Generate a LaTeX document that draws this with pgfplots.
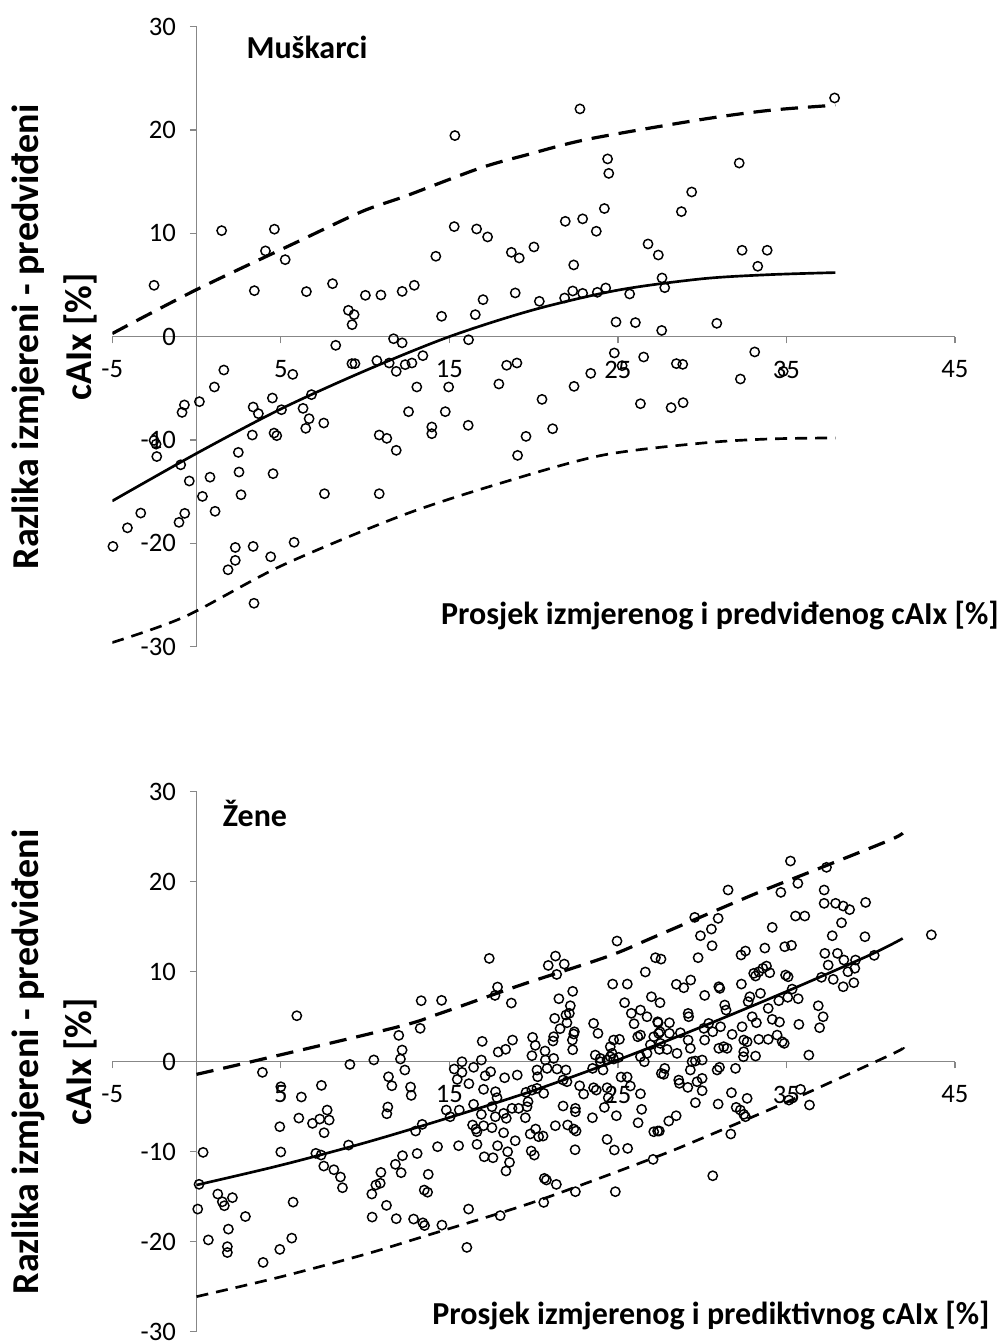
\documentclass[border=0pt]{standalone}
\usepackage{pgfplots}
\pgfplotsset{compat=1.18}
\usepackage{fontspec}
\setmainfont{Carlito}

\newcommand{\lblfont}{\fontsize{24}{29}\selectfont\bfseries}
\newcommand{\ylblfont}{\fontsize{28.5}{34}\selectfont\bfseries}

\pgfplotsset{
  resid/.style={
    scale only axis, width=632pt,
    xmin=-5, xmax=45, ymin=-30, ymax=30,
    axis lines=middle,
    axis line style={draw=black!47, line width=1pt, -},
    every inner x axis line/.append style={-},
    every inner y axis line/.append style={-},
    xtick={-5,5,15,25,35,45}, xticklabels={-5,5,15,25,35,45},
    ytick={-30,-20,-10,0,10,20,30}, yticklabels={-30,-20,-10,0,10,20,30},
    hide obscured x ticks=false, hide obscured y ticks=false,
    tick align=outside, major tick length=5pt,
    tick style={draw=black!47, line width=1pt},
    tick label style={font=\fontsize{20}{24}\selectfont},
    xticklabel style={yshift=-9.5pt},
    yticklabel style={xshift=-7pt},
  },
  pts/.style={only marks, mark=o, mark size=3.5pt, mark options={line width=1.1pt, draw=black}},
  fitline/.style={black, line width=2pt, smooth, no marks},
  upper/.style={black, line width=2.4pt, dash pattern=on 13pt off 7.5pt, smooth, no marks},
  lower/.style={black, line width=2pt, dash pattern=on 9pt off 6pt, smooth, no marks},
}

\begin{document}
\begin{tikzpicture}
\path[use as bounding box] (0,0) rectangle (754.5pt,1006.5pt);

% Muskarci
\begin{axis}[resid, height=465pt, at={(84.2pt,521.5pt)}, anchor=south west]
\addplot[pts] coordinates {
(-2.52,4.97) (1.49,10.26) (4.62,10.4) (4.09,8.3) (5.26,7.45) (3.43,4.45) (6.52,4.36) (8.07,5.13)
(9.01,2.55) (9.35,2.13) (9.23,1.16) (10.02,4.0) (10.94,4.03) (12.2,4.38) (11.69,-0.2) (12.2,-0.6)
(22.75,22.04) (15.33,19.46) (37.86,23.1) (24.39,17.2) (24.46,15.8) (32.2,16.8) (29.38,14.0) (28.77,12.1)
(24.2,12.4) (21.88,11.16) (22.91,11.4) (23.72,10.2) (15.29,10.65) (16.62,10.42) (17.27,9.65) (14.2,7.78)
(18.68,8.16) (19.15,7.61) (20.02,8.68) (22.38,6.94) (26.79,8.97) (27.4,7.9) (27.62,5.68) (27.78,4.74)
(32.37,8.36) (33.86,8.36) (33.3,6.81) (12.92,4.97) (14.54,1.97) (16.54,2.13) (17.0,3.58) (18.91,4.23)
(20.34,3.42) (21.84,3.74) (22.32,4.42) (22.91,4.19) (23.78,4.29) (24.28,4.71) (25.7,4.13) (24.89,1.42)
(26.04,1.36) (27.6,0.6) (30.87,1.29) (16.14,-0.3) (8.26,-0.84) (9.22,-2.61) (9.4,-2.61) (10.7,-2.32)
(11.43,-2.55) (11.85,-3.36) (1.62,-3.23) (1.06,-4.87) (0.17,-6.29) (-0.72,-6.61) (-0.86,-7.33) (5.71,-3.65)
(4.5,-5.94) (3.36,-6.81) (3.67,-7.45) (5.04,-7.07) (6.82,-5.61) (6.32,-6.94) (6.68,-7.94) (6.48,-8.87)
(7.55,-8.36) (3.31,-9.52) (4.6,-9.33) (4.76,-9.58) (2.48,-11.2) (2.52,-13.1) (4.54,-13.26) (0.8,-13.6)
(-0.43,-13.97) (-0.94,-12.4) (2.64,-15.3) (0.35,-15.46) (1.1,-16.9) (-0.7,-17.1) (-1.04,-17.97) (-3.31,-17.07)
(-4.1,-18.5) (-4.96,-20.3) (-2.52,-10.04) (-2.4,-10.4) (-2.36,-11.6) (7.59,-15.2) (10.84,-15.2) (10.84,-9.52)
(11.29,-9.84) (11.85,-11.0) (12.58,-7.26) (2.3,-20.4) (2.3,-21.65) (1.87,-22.56) (3.36,-20.3) (4.4,-21.3)
(5.79,-19.9) (3.41,-25.8) (13.43,-1.84) (12.38,-2.71) (12.78,-2.55) (13.07,-4.87) (14.96,-4.87) (14.76,-7.26)
(13.96,-8.74) (13.96,-9.39) (16.12,-8.58) (18.4,-2.77) (19.01,-2.55) (17.94,-4.58) (20.5,-6.07) (22.4,-4.81)
(23.39,-3.55) (21.13,-8.91) (19.55,-9.65) (19.05,-11.49) (24.79,-1.58) (25.25,-2.81) (26.53,-1.97) (26.34,-6.49)
(28.47,-2.61) (28.85,-2.68) (28.16,-6.87) (28.87,-6.39) (33.12,-1.48) (32.27,-4.1) (34.81,-3.36)
};
\addplot[fitline] coordinates {(-5,-15.9) (0,-11.3) (5,-7.0) (10,-3.3) (15,0.0) (20,2.6) (25,4.5) (30,5.6) (34,6.0) (37.9,6.2)};
\addplot[upper] coordinates {(-5,0.3) (0,4.55) (5.85,9.07) (9.8,12.1) (12.4,13.6) (16.8,16.3) (19.6,17.6) (23.2,19.1) (29.9,21.0) (34,21.9) (37.9,22.4)};
\addplot[lower] coordinates {(-5,-29.6) (-0.7,-27.1) (5,-22.2) (12.2,-17.3) (18,-14.2) (24,-11.5) (30,-10.3) (34,-9.9) (37.9,-9.8)};
\end{axis}

% Zene
\begin{axis}[resid, height=405pt, at={(84.2pt,7.7pt)}, anchor=south west]
\addplot[pts] coordinates {
(5.95,5.11) (13.33,6.78) (13.27,3.71) (12.0,2.93) (12.2,1.3) (12.1,0.3) (10.52,0.2) (9.1,-0.3)
(3.91,-1.18) (12.36,-0.92) (11.39,-1.67) (11.59,-2.67) (12.7,-2.81) (12.74,-3.74) (5.0,-2.78) (7.41,-2.63)
(6.22,-3.92) (7.75,-5.37) (6.07,-6.26) (6.88,-6.85) (7.31,-6.37) (7.87,-6.48) (7.57,-7.89) (4.94,-7.22)
(11.35,-5.03) (11.29,-5.78) (0.39,-10.07) (5.0,-10.03) (7.08,-10.18) (7.39,-10.37) (9.02,-9.26) (7.55,-11.59)
(8.15,-12.0) (8.54,-12.81) (8.66,-14.0) (0.15,-13.62) (0.07,-16.37) (1.26,-14.7) (1.53,-15.56) (1.65,-16.0)
(2.13,-15.1) (2.9,-17.2) (1.89,-18.6) (0.7,-19.8) (1.83,-20.55) (1.83,-21.2) (3.95,-22.3) (4.94,-20.85)
(5.65,-19.6) (5.73,-15.6) (10.4,-14.7) (10.64,-13.7) (10.9,-13.5) (10.94,-12.3) (11.8,-11.4) (12.22,-10.44)
(12.14,-12.33) (13.09,-10.2) (13.0,-7.7) (13.39,-6.96) (11.27,-15.96) (10.42,-17.26) (11.85,-17.44) (12.88,-17.48)
(13.43,-17.9) (13.53,-18.2) (13.75,-12.51) (13.51,-14.26) (13.71,-14.5)
(24.95,13.41) (17.37,11.48) (21.3,11.74) (20.87,10.7) (21.82,10.85) (21.37,9.7) (17.86,8.3) (17.71,7.37)
(14.54,6.82) (18.68,6.52) (16.95,2.26) (18.75,2.41) (17.9,1.08) (18.34,1.38) (15.75,0.0) (16.9,0.19)
(19.94,2.71) (20.1,1.82) (19.9,0.67) (20.68,1.19) (21.19,2.78) (21.15,2.3) (21.25,4.82) (21.5,7.0)
(22.32,7.82) (22.18,6.22) (22.12,5.38) (21.92,5.19) (21.98,4.33) (21.57,3.67) (22.42,3.33) (22.38,3.08)
(22.3,2.41) (22.32,1.33) (21.19,0.37) (23.56,4.26) (23.82,3.15) (24.69,8.63) (25.56,8.63) (26.63,9.97)
(25.4,6.56) (25.8,5.38) (26.34,5.74) (26.73,5.0) (25.96,4.22) (26.99,7.22) (27.23,11.56) (27.5,6.56)
(24.75,2.41) (25.09,2.49) (24.55,1.67) (24.66,0.93) (26.18,2.78) (26.34,2.96) (27.13,2.78) (26.93,1.89)
(27.42,3.15) (23.66,0.74) (23.96,0.37) (24.55,0.56) (25.05,0.49) (26.34,0.56) (26.73,0.93) (27.36,4.44)
(20.7,0.2)
(15.29,-0.81) (15.75,-1.18) (15.47,-1.96) (16.44,-0.62) (16.16,-2.44) (17.45,-1.11) (17.13,-1.56) (17.03,-3.07)
(18.28,-1.78) (19.03,-1.48) (17.74,-3.33) (17.83,-4.0) (20.2,-0.92) (20.24,-1.67) (20.8,-0.74) (21.39,-0.81)
(21.92,-0.92) (21.75,-2.03) (21.98,-2.22) (19.9,-3.15) (20.2,-2.96) (20.6,-3.51) (19.55,-3.4) (22.73,-2.67)
(22.97,-3.59) (23.56,-2.89) (23.72,-3.15) (23.5,-0.74) (23.96,0.0) (24.36,0.19) (24.75,0.3) (24.12,-0.92)
(24.36,-2.89) (24.43,-4.0) (25.19,-1.7) (25.55,-1.7) (25.74,-2.7) (26.34,-3.56) (26.57,0.0) (24.2,-5.07)
(24.91,-6.0) (26.41,-5.29) (26.2,-6.78) (23.49,-6.22) (21.75,-4.92) (22.48,-5.18) (22.48,-5.56) (22.02,-7.03)
(21.29,-7.11) (22.38,-7.48) (22.52,-7.7) (19.8,-8.03) (20.12,-7.48) (20.56,-8.26) (20.3,-8.33) (19.86,-9.92)
(20.04,-10.37) (22.46,-9.78) (24.36,-8.63) (24.79,-9.81) (25.58,-9.63) (27.13,-7.78) (27.36,-7.7) (27.09,-10.85)
(20.64,-12.96) (20.76,-13.14) (21.35,-13.63) (22.48,-14.44) (24.85,-14.44) (20.6,-15.63) (18.02,-17.1) (16.14,-16.37)
(16.04,-20.63) (14.56,-18.15) (14.3,-9.44) (15.55,-9.33) (16.64,-9.18) (17.07,-10.56) (17.59,-10.67) (17.86,-9.33)
(18.46,-10.0) (18.57,-11.18) (18.36,-12.14) (18.22,-7.89) (18.91,-8.78) (16.64,-7.78) (16.38,-7.03) (16.58,-7.48)
(17.03,-7.11) (17.53,-7.33) (14.82,-5.37) (15.59,-5.37) (15.05,-6.11) (16.44,-4.73) (16.9,-5.85) (17.53,-5.0)
(17.73,-6.11) (18.22,-5.74) (18.38,-6.29) (18.72,-5.18) (19.11,-5.18) (19.51,-6.22) (19.61,-5.0) (19.67,-4.44)
(35.24,22.3) (37.38,21.6) (31.54,19.08) (34.67,18.82) (35.68,19.82) (37.24,19.08) (37.24,17.6) (37.92,17.6)
(38.37,17.3) (38.75,16.9) (39.7,17.7) (29.56,16.04) (30.95,15.93) (30.55,14.74) (29.9,14.0) (30.59,12.89)
(35.54,16.19) (36.09,16.19) (38.27,15.44) (37.72,14.0) (39.66,13.89) (34.16,14.93) (27.56,11.4) (29.76,11.56)
(32.31,11.86) (32.57,12.3) (33.72,12.63) (34.9,12.78) (35.3,12.93) (37.28,12.04) (38.03,12.04) (38.41,11.3)
(39.1,11.3) (40.21,11.82) (39.06,10.38) (37.48,10.74) (38.65,10.0) (39.0,8.78) (38.37,8.33) (37.78,9.15)
(37.08,9.38) (33.06,9.82) (33.36,10.0) (33.6,10.38) (33.82,10.63) (34.01,9.89) (33.17,9.52) (34.95,9.63)
(35.1,9.44) (32.33,8.63) (29.32,9.08) (28.47,8.6) (28.91,8.22) (30.99,8.33) (31.05,8.15) (30.15,7.37)
(35.34,8.07) (35.08,7.16) (35.7,7.0) (34.55,6.78) (36.89,6.22) (37.18,5.0) (36.97,3.78) (35.74,4.15)
(32.83,7.22) (32.73,6.67) (33.46,7.6) (33.92,5.93) (34.16,4.71) (34.59,4.41) (32.97,5.0) (33.22,4.33)
(31.34,6.3) (31.42,5.74) (29.17,5.37) (29.2,5.0) (32.37,3.89) (31.78,3.04) (32.47,2.41) (30.39,4.26)
(30.1,3.71) (30.63,3.33) (31.09,3.89) (33.36,2.49) (33.92,2.49) (34.45,2.96) (34.75,2.22) (34.87,2.04)
(32.67,2.22) (32.47,1.11) (33.17,0.63) (36.33,0.74) (27.39,4.33) (28.06,4.33) (27.5,3.33) (28.06,3.15)
(27.52,2.04) (28.71,3.22) (29.17,2.41) (29.3,1.49) (30.15,2.41) (30.99,1.49) (31.28,1.67) (31.48,1.49)
(27.46,1.37) (27.92,1.37) (28.51,0.93)
(27.78,-0.74) (27.58,-1.3) (27.72,-1.4) (28.61,-2.04) (28.65,-2.4) (29.15,-2.85) (29.3,-0.92) (29.6,0.08)
(30.0,0.19) (29.4,0.0) (29.7,-2.22) (30.0,-1.85) (30.0,-3.22) (30.89,-0.92) (31.03,-0.62) (31.98,-0.74)
(29.6,-4.55) (30.95,-4.7) (31.74,-3.44) (32.67,-4.07) (32.02,-5.07) (32.27,-5.37) (32.47,-5.85) (32.57,-6.11)
(28.46,-6.0) (28.02,-6.59) (27.46,-7.7) (31.7,-8.03) (30.63,-12.67) (32.45,0.56) (35.84,-3.07) (36.37,-4.81)
(35.15,-4.26) (43.6,14.1)
};
\addplot[fitline] coordinates {(0,-13.7) (5,-11.5) (10,-9.0) (15,-6.2) (20,-3.2) (25,0.2) (30,3.9) (35,7.8) (40,11.9) (41.9,13.7)};
\addplot[upper] coordinates {(0,-1.4) (3.7,0.2) (12,3.9) (14.5,5.4) (19.2,8.5) (24.4,11.7) (27.2,13.9) (33.2,18.7) (36.7,21.3) (41.1,24.6) (41.9,25.4)};
\addplot[lower] coordinates {(0,-26.1) (5,-23.9) (10,-21.4) (13.5,-19.4) (20,-15.6) (27.1,-10.7) (30,-8.5) (35,-4.5) (41.1,0.7) (41.9,1.5)};
\end{axis}

% texts
\node[font=\lblfont] at (230.25pt,971.25pt) {Muškarci};
\node[font=\lblfont] at (191.25pt,396.75pt) {Žene};
\node[font=\lblfont, anchor=base] at (540pt,537.75pt) {Prosjek izmjerenog i predviđenog cAIx [\%]};
\node[font=\lblfont, anchor=base] at (533.25pt,12.75pt) {Prosjek izmjerenog i prediktivnog cAIx [\%]};
\node[font=\ylblfont, rotate=90] at (21pt,753.75pt) {Razlika izmjereni - predviđeni};
\node[font=\ylblfont, rotate=90] at (60pt,753.75pt) {cAIx [\%]};
\node[font=\ylblfont, rotate=90] at (21pt,210pt) {Razlika izmjereni - predviđeni};
\node[font=\ylblfont, rotate=90] at (60pt,210pt) {cAIx [\%]};
\end{tikzpicture}
\end{document}
